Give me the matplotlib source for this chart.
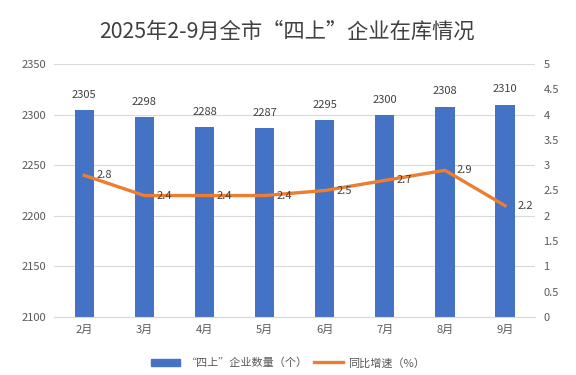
import matplotlib
matplotlib.use("Agg")
import matplotlib.pyplot as plt
import numpy as np
from matplotlib.patches import Patch
from matplotlib.lines import Line2D

plt.rcParams['font.family'] = ['Noto Sans CJK SC', 'DejaVu Sans']

months = ["2月", "3月", "4月", "5月", "6月", "7月", "8月", "9月"]
counts = [2305, 2298, 2288, 2287, 2295, 2300, 2308, 2310]
growth = [2.8, 2.4, 2.4, 2.4, 2.5, 2.7, 2.9, 2.2]
title = "2025年2-9月全市“四上”企业在库情况"
bar_label = "“四上”企业数量（个）"
line_label = "同比增速（%）"

bar_color = "#4472C4"
line_color = "#ED7D31"
text_color = "#595959"
grid_color = "#D9D9D9"

fig = plt.figure(figsize=(5.76, 3.75), dpi=100)
ax = fig.add_axes([0.094, 0.155, 0.835, 0.674])
x = np.arange(len(months))
ax.bar(x, counts, width=0.32, color=bar_color, zorder=2)
ax.set_ylim(2100, 2350)
ax.set_yticks(np.arange(2100, 2351, 50))
ax.set_xlim(-0.5, len(months) - 0.5)
ax.set_xticks(x)
ax.set_xticklabels(months)
ax.yaxis.grid(True, color=grid_color, linewidth=0.8, zorder=0)
ax.set_axisbelow(True)
for s in ax.spines.values():
    s.set_visible(False)
ax.spines['bottom'].set_visible(True)
ax.spines['bottom'].set_color(grid_color)
ax.tick_params(axis='both', length=0, labelsize=8, colors=text_color, pad=6)
for xi, v in zip(x, counts):
    ax.text(xi, v + 10, str(v), ha='center', va='bottom', fontsize=8, color="#404040")

ax2 = ax.twinx()
ax2.plot(x, growth, color=line_color, linewidth=2.4, zorder=3)
ax2.set_ylim(0, 5)
ax2.set_yticks(np.arange(0, 5.01, 0.5))
ax2.set_yticklabels([f"{v:g}" for v in np.arange(0, 5.01, 0.5)])
for s in ax2.spines.values():
    s.set_visible(False)
ax2.tick_params(axis='both', length=0, labelsize=8, colors=text_color, pad=6)
for xi, v in zip(x, growth):
    ax2.text(xi + 0.2, v, f"{v:g}", ha='left', va='center', fontsize=8, color="#404040")

fig.text(0.499, 0.915, title, ha='center', va='center', fontsize=15.3, color="#404040")

handles = [Patch(color=bar_color, label=bar_label),
           Line2D([0], [0], color=line_color, linewidth=2.4, label=line_label)]
fig.legend(handles=handles, loc='center', bbox_to_anchor=(0.5, 0.032), ncol=2,
           frameon=False, fontsize=8, labelcolor=text_color, handlelength=2.6,
           columnspacing=0.6, handletextpad=0.5)

fig.savefig("out.png", dpi=100)
